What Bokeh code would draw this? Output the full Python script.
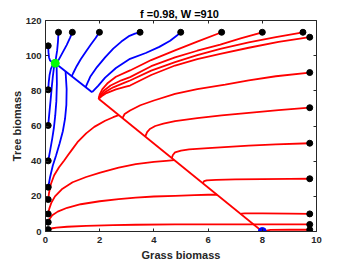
from bokeh.plotting import figure
from bokeh.models import Range1d, LinearAxis, FixedTicker, CustomLabelingPolicy
from bokeh.embed import file_html
from bokeh.resources import INLINE

# ---------------- data ----------------
title_text = "f =0.98,  W =910"
x_label = "Grass biomass"
y_label = "Tree biomass"
x_ticks = [0, 2, 4, 6, 8, 10]
y_ticks = [0, 20, 40, 60, 80, 100, 120]

# starting points (black dots)
left_start_x = [0.1, 0.1, 0.1, 0.1, 0.1, 0.1, 0.1, 0.1, 0.1]
left_start_y = [105.6, 80.6, 60.3, 40.2, 25.2, 18.2, 10.0, 5.3, 1.1]
top_start_x = [0.48, 0.99, 1.99, 3.49, 4.99, 6.5, 8.0, 9.5]
top_start_y = [113.3, 113.3, 113.3, 113.3, 113.3, 113.3, 113.3, 113.3]
right_start_x = [9.75, 9.75, 9.75, 9.75, 9.75, 9.75, 9.75, 9.75]
right_start_y = [110.5, 90.4, 70.4, 50.2, 30.0, 10.0, 4.0, 1.0]

# equilibria
grass_eq_x = [8.0]
grass_eq_y = [0.0]
tree_eq_x = [0.36]
tree_eq_y = [95.7]

# blue trajectories (end at tree equilibrium)
bl105_x = [0.1, 0.11, 0.13, 0.17, 0.25, 0.36]
bl105_y = [105.6, 102, 99, 97.2, 96.3, 95.7]
bl80_x = [0.1, 0.12, 0.15, 0.2, 0.27, 0.36]
bl80_y = [80.6, 85, 89, 92.5, 94.8, 95.7]
bl60_x = [0.1, 0.14, 0.19, 0.23, 0.27, 0.31, 0.36]
bl60_y = [60.3, 67, 75, 82, 88, 93, 95.7]
bl40_x = [0.1, 0.17, 0.25, 0.31, 0.36, 0.4, 0.42, 0.41]
bl40_y = [40.2, 46, 53, 59, 66, 74, 84, 95.1]
bl25_x = [0.1, 0.17, 0.27, 0.39, 0.52, 0.64, 0.72, 0.77, 0.78, 0.74]
bl25_y = [25.2, 31, 37.5, 43.2, 50, 57, 64, 72, 81, 91.1]
bt05_x = [0.48, 0.46, 0.43, 0.39, 0.36]
bt05_y = [113.3, 108, 103, 99, 95.7]
bt10_x = [0.99, 0.9, 0.78, 0.64, 0.5, 0.4]
bt10_y = [113.3, 110, 106, 102, 98, 95.2]
bt20_x = [1.99, 1.85, 1.68, 1.5, 1.3, 1.15, 1.02, 0.97]
bt20_y = [113.3, 110, 106.5, 102.5, 98, 94, 90, 88.3]
bt35_x = [3.49, 3.3, 3.1, 2.8, 2.5, 2.2, 1.9, 1.65, 1.48]
bt35_y = [113.3, 112.5, 111.3, 108, 104, 99, 93.5, 88, 82.1]
bt50_x = [4.99, 4.85, 4.6, 4.2, 3.7, 3.12, 2.6, 2.2, 1.95, 1.8, 1.72]
bt50_y = [113.3, 111.5, 108.5, 105, 101.5, 98.2, 93, 87.5, 83, 80.5, 79.2]
blue_manifold_x = [1.72, 0.36]
blue_manifold_y = [79.2, 95.7]

# red trajectories (end at grass equilibrium)
rt65_x = [1.96, 2.0, 2.1, 2.3, 2.6, 3.12, 3.9, 4.78, 5.6, 6.5]
rt65_y = [75.5, 78, 81, 84.5, 88, 91.6, 97.5, 103, 108, 113.3]
rt80_x = [1.96, 2.02, 2.15, 2.4, 2.8, 3.12, 3.9, 4.78, 5.6, 6.45, 7.2, 8.0]
rt80_y = [75.5, 77.5, 80, 83, 86, 87.8, 94, 99, 102.8, 106.3, 109.8, 113.3]
rt95_x = [1.96, 2.05, 2.2, 2.5, 2.9, 3.12, 3.9, 4.78, 5.6, 6.45, 7.5, 8.5, 9.5]
rt95_y = [75.5, 77.2, 79.3, 82, 84.5, 85.9, 91.5, 96.3, 100.3, 103.9, 107.5, 110.5, 113.3]
rr110_x = [1.96, 2.08, 2.25, 2.6, 3.0, 3.12, 3.9, 4.78, 5.6, 6.45, 7.5, 8.6, 9.75]
rr110_y = [75.5, 77, 78.7, 80.8, 82.5, 83, 89, 94.4, 98, 101, 104.5, 107.8, 110.5]
rr90_x = [2.84, 2.92, 3.12, 3.5, 4.0, 4.78, 5.6, 6.63, 7.5, 8.5, 9.75]
rr90_y = [64.5, 66.8, 68.8, 71.8, 74.5, 78.3, 81, 83.5, 86, 88.3, 90.4]
rr70_x = [3.68, 3.75, 3.85, 4.05, 4.35, 4.78, 5.6, 6.5, 7.5, 8.6, 9.75]
rr70_y = [54, 56.5, 58.3, 60, 61.3, 62.8, 64.5, 66, 67.5, 69, 70.4]
rr50_x = [4.66, 4.7, 4.78, 5.0, 5.3, 6.0, 6.6, 7.5, 8.5, 9.75]
rr50_y = [41.75, 43.5, 45, 46, 46.7, 47.4, 48, 48.8, 49.5, 50.2]
rr30_x = [5.8, 5.85, 5.95, 6.3, 7.0, 8.0, 9.0, 9.75]
rr30_y = [27.5, 28.6, 29.1, 29.4, 29.6, 29.8, 29.9, 30]
rr10_x = [7.2, 7.25, 7.35, 8.0, 9.0, 9.75]
rr10_y = [10, 10.2, 10.3, 10.3, 10.2, 10]
rr4_x = [7.68, 8.5, 9.75]
rr4_y = [4.0, 4.0, 4.0]
rr1_x = [8.0, 8.3, 9.0, 9.75]
rr1_y = [0.0, 0.9, 1.0, 1.0]
rl18_x = [0.1, 0.13, 0.2, 0.32, 0.5, 0.69, 0.82, 1.0, 1.18, 1.5, 1.8, 2.2, 2.5, 2.7]
rl18_y = [18.2, 22, 27, 32, 36.5, 40.4, 43.2, 47, 50.8, 55.8, 59.5, 63, 65, 66.2]
rl10_x = [0.1, 0.14, 0.22, 0.35, 0.6, 1.0, 1.5, 2.02, 2.7, 3.33, 4.0, 4.45, 4.75]
rl10_y = [10, 13, 16.5, 20, 24, 28, 31, 33.5, 36.3, 38.3, 39.6, 40.2, 40.6]
rl5_x = [0.1, 0.15, 0.25, 0.45, 0.8, 1.3, 2.0, 2.7, 3.33, 4.0, 4.78, 5.5, 6.0, 6.33]
rl5_y = [5.3, 7.2, 9.2, 11.3, 13.5, 15.5, 17.2, 18.4, 19.3, 19.9, 20.3, 20.7, 20.9, 20.9]
rl1_x = [0.1, 0.2, 0.4, 0.8, 1.5, 2.5, 3.33, 4.78, 6.0, 7.0, 7.68]
rl1_y = [1.1, 1.7, 2.2, 2.7, 3.2, 3.6, 3.85, 4.0, 4.05, 4.05, 4.0]
red_manifold_x = [1.96, 8.0]
red_manifold_y = [75.5, 0.0]

blue_xs = [bl105_x, bl80_x, bl60_x, bl40_x, bl25_x, bt05_x, bt10_x, bt20_x, bt35_x, bt50_x, blue_manifold_x]
blue_ys = [bl105_y, bl80_y, bl60_y, bl40_y, bl25_y, bt05_y, bt10_y, bt20_y, bt35_y, bt50_y, blue_manifold_y]
red_xs = [rt65_x, rt80_x, rt95_x, rr110_x, rr90_x, rr70_x, rr50_x, rr30_x, rr10_x, rr4_x, rr1_x,
          rl18_x, rl10_x, rl5_x, rl1_x, red_manifold_x]
red_ys = [rt65_y, rt80_y, rt95_y, rr110_y, rr90_y, rr70_y, rr50_y, rr30_y, rr10_y, rr4_y, rr1_y,
          rl18_y, rl10_y, rl5_y, rl1_y, red_manifold_y]

# ---------------- figure ----------------
FONT = "Liberation Sans"
AX_COLOR = "#262626"

p = figure(frame_width=271, frame_height=211, x_range=Range1d(0, 10), y_range=Range1d(0, 120),
           output_backend="svg", toolbar_location=None,
           min_border_left=45, min_border_right=17, min_border_top=20, min_border_bottom=32,
           x_axis_label=x_label, y_axis_label=y_label)
p.grid.visible = False
p.outline_line_color = None
p.background_fill_color = "white"
p.border_fill_color = "white"

no_labels = CustomLabelingPolicy(code="""
for (const i of indices)
  indices.unset(i)
""")

def style_axis(ax, ticks, show_labels=True):
    ax.ticker = FixedTicker(ticks=ticks)
    ax.axis_line_color = AX_COLOR
    ax.axis_line_width = 1
    ax.major_tick_in = 3
    ax.major_tick_out = 0
    ax.major_tick_line_color = AX_COLOR
    ax.minor_tick_line_color = None
    ax.major_label_text_font = FONT
    ax.major_label_text_font_style = "bold"
    ax.major_label_text_color = AX_COLOR
    ax.major_label_text_font_size = "9.5px"
    ax.axis_label_text_font = FONT
    ax.axis_label_text_font_style = "bold"
    ax.axis_label_text_color = AX_COLOR
    ax.axis_label_text_font_size = "11px"
    if not show_labels:
        ax.major_label_policy = no_labels
        ax.major_label_text_font_size = "0px"
        ax.major_label_standoff = 0

style_axis(p.xaxis[0], x_ticks)
style_axis(p.yaxis[0], y_ticks)
p.xaxis[0].major_label_standoff = 5
p.xaxis[0].axis_label_standoff = 3
p.yaxis[0].major_label_standoff = 4
p.yaxis[0].axis_label_standoff = 0

# top axis carries the title as its label (box-style axes as in the reference)
top_ax = LinearAxis(axis_label=title_text)
style_axis(top_ax, x_ticks, show_labels=False)
top_ax.axis_label_text_color = "black"
top_ax.axis_label_standoff = 1
p.add_layout(top_ax, "above")
right_ax = LinearAxis()
style_axis(right_ax, y_ticks, show_labels=False)
p.add_layout(right_ax, "right")

p.multi_line(red_xs, red_ys, line_color="#ff0000", line_width=1.8, line_join="round")
p.multi_line(blue_xs, blue_ys, line_color="#0000ff", line_width=1.8, line_join="round")

p.scatter(left_start_x, left_start_y, size=6, color="black")
p.scatter(top_start_x, top_start_y, size=6, color="black")
p.scatter(right_start_x, right_start_y, size=6, color="black")
p.scatter(grass_eq_x, grass_eq_y, size=8, color="#0000ff")
p.scatter(tree_eq_x, tree_eq_y, size=8, color="#00ff00")

open("out.html", "w").write(file_html(p, INLINE))
